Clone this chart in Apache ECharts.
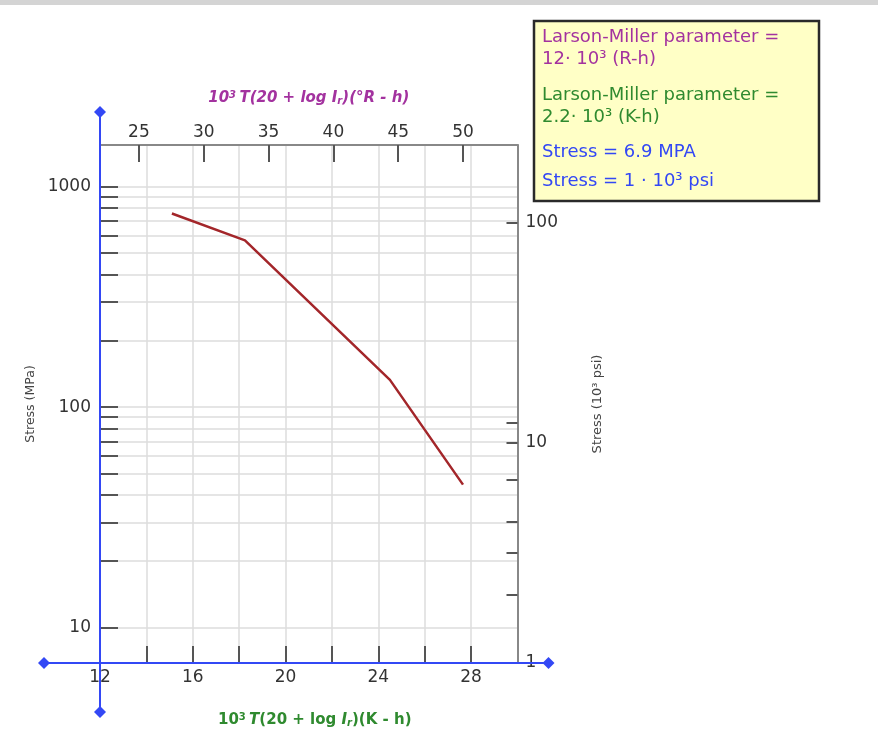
<!DOCTYPE html>
<html><head><meta charset="utf-8">
<script src="https://cdn.jsdelivr.net/npm/echarts@6/dist/echarts.min.js"></script>
<style>html,body{margin:0;padding:0;background:#fff}#c{width:878px;height:740px}</style>
</head><body><div id="c"></div>
<script>
// Larson-Miller parameter (10^3 K-h) vs stress (MPa)
const paramK = [15.1, 18.25, 24.5, 27.65];
const stressMPa = [757, 572, 133, 44.5];
// Tick definitions
const xTicksK = [12, 14, 16, 18, 20, 22, 24, 26, 28, 30];
const xLabelsK = [12, 16, 20, 24, 28];
const topTicksR = [25, 30, 35, 40, 45, 50];
const leftTicksMPa = [10, 20, 30, 40, 50, 60, 70, 80, 90, 100, 200, 300, 400, 500, 600, 700, 800, 900, 1000];
const leftLabelsMPa = [10, 100, 1000];
const rightTicksKsi = [1, 2.04, 3.18, 4.39, 6.8, 10, 12.35, 100];
const rightLabelsKsi = [1, 10, 100];
const legendLines = [
  ['Larson-Miller parameter =', 'p'],
  ['12· 10³ (R-h)', 'p'],
  ['Larson-Miller parameter =', 'g'],
  ['2.2· 10³ (K-h)', 'g'],
  ['Stress = 6.9 MPA', 'b'],
  ['Stress = 1 · 10³ psi', 'b']
];

const PURPLE = '#a3329f', GREEN = '#2f8a2f', BLUE = '#3348f5';
const FONT = 'DejaVu Sans';
const K_MIN = 12, K_MAX = 30, R_MIN = 22.0, R_MAX = 54.2;
const MPA_MIN = 6.895, MPA_MAX = 1549;
const KSI_MIN = 1, KSI_MAX = MPA_MAX / 6.895;

const chart = echarts.init(document.getElementById('c'), null, {renderer: 'canvas'});

function richName(col, italicAll) {
  const base = {fontFamily: FONT, fontWeight: 'bold', fontSize: 15, color: col, fontStyle: italicAll ? 'italic' : 'normal'};
  return {
    n: base,
    i: Object.assign({}, base, {fontStyle: 'italic'}),
    sup: Object.assign({}, base, {fontSize: 10, verticalAlign: 'top', padding: [0, 0, 6, 0]}),
    sub: Object.assign({}, base, {fontSize: 10, fontStyle: 'italic', verticalAlign: 'bottom', padding: [6, 0, 0, 0]})
  };
}

const tickLabelStyle = {fontFamily: FONT, fontSize: 17, color: '#333', formatter: v => String(v)};
const gridLineStyle = {color: '#dcdcdc', width: 1.5, type: 'solid'};

chart.setOption({
  animation: false,
  backgroundColor: '#fff',
  grid: {left: 100, top: 145, width: 417.5, height: 518, containLabel: false},
  xAxis: [{
    type: 'value', position: 'bottom', min: K_MIN, max: K_MAX, interval: 2, z: 10,
    axisLine: {show: false},
    axisTick: {show: true, inside: true, length: 17, customValues: xTicksK.slice(1, -1), lineStyle: {color: '#555', width: 2}},
    axisLabel: Object.assign({customValues: xLabelsK, margin: 6}, tickLabelStyle),
    splitLine: {show: false},
    name: '{n|10}{sup|3} {i|T}{n|(20 + log }{i|I}{sub|r}{n|)(K - h)}',
    nameLocation: 'middle', nameGap: 49,
    nameTextStyle: {rich: richName(GREEN, false), padding: [0, 0, 0, 12]}
  }, {
    type: 'value', position: 'top', min: R_MIN, max: R_MAX, z: 10,
    axisLine: {show: true, lineStyle: {color: '#888', width: 2}},
    axisTick: {show: true, inside: true, length: 17, customValues: topTicksR, lineStyle: {color: '#555', width: 2}},
    axisLabel: Object.assign({customValues: topTicksR, margin: 4}, tickLabelStyle),
    splitLine: {show: false},
    name: '{n|10}{sup|3} {n|T(20 + log I}{sub|r}{n|)(°R - h)}',
    nameLocation: 'middle', nameGap: 39,
    nameTextStyle: {rich: richName(PURPLE, true)}
  }],
  yAxis: [{
    type: 'log', logBase: 10, position: 'left', min: MPA_MIN, max: MPA_MAX, z: 10,
    axisLine: {show: false},
    axisTick: {show: true, inside: true, length: 18, customValues: leftTicksMPa, lineStyle: {color: '#555', width: 2}},
    axisLabel: Object.assign({customValues: leftLabelsMPa, margin: 9}, tickLabelStyle),
    splitLine: {show: false},
    name: 'Stress (MPa)', nameLocation: 'middle', nameGap: 63, nameRotate: 90,
    nameTextStyle: {fontFamily: FONT, fontSize: 12.5, color: '#444'}
  }, {
    type: 'log', logBase: 10, position: 'right', min: KSI_MIN, max: KSI_MAX, z: 10,
    axisLine: {show: true, lineStyle: {color: '#888', width: 2}},
    axisTick: {show: true, inside: true, length: 11, customValues: rightTicksKsi, lineStyle: {color: '#555', width: 2}},
    axisLabel: Object.assign({customValues: rightLabelsKsi, margin: 8}, tickLabelStyle),
    splitLine: {show: false},
    name: 'Stress (10³ psi)', nameLocation: 'middle', nameGap: 74, nameRotate: 90,
    nameTextStyle: {fontFamily: FONT, fontSize: 13, color: '#444'}
  }],
  series: [{
    type: 'line', xAxisIndex: 0, yAxisIndex: 0, z: 1, data: [],
    markLine: {
      silent: true, symbol: 'none', animation: false, z: 1,
      label: {show: false},
      lineStyle: gridLineStyle,
      emphasis: {disabled: true},
      data: leftTicksMPa.map(v => ({yAxis: v})).concat(xTicksK.slice(1, -1).map(v => ({xAxis: v})))
    }
  }, {
    type: 'line', xAxisIndex: 0, yAxisIndex: 0, z: 6,
    symbol: 'none', smooth: false,
    lineStyle: {color: '#a3262a', width: 2.5},
    data: paramK.map((k, i) => [k, stressMPa[i]])
  }]
});

// Decorative blue axes and legend box
const o = chart.convertToPixel({xAxisIndex: 0, yAxisIndex: 0}, [K_MIN, MPA_MIN]);
const tr = chart.convertToPixel({xAxisIndex: 0, yAxisIndex: 0}, [K_MAX, MPA_MAX]);
function diamond(x, y) {
  return {type: 'polygon', z: 100, shape: {points: [[x, y - 6], [x + 6, y], [x, y + 6], [x - 6, y]]}, style: {fill: BLUE}};
}
const colMap = {p: PURPLE, g: GREEN, b: BLUE};
const legendY = [37, 59, 95, 117, 152, 181];
const graphics = [
  {type: 'rect', z: 0, shape: {x: 0, y: 0, width: 878, height: 5}, style: {fill: '#d4d4d4'}},
  {type: 'line', z: 99, shape: {x1: o[0], y1: tr[1] - 33, x2: o[0], y2: o[1] + 49}, style: {stroke: BLUE, lineWidth: 2}},
  {type: 'line', z: 99, shape: {x1: o[0] - 56, y1: o[1], x2: tr[0] + 31, y2: o[1]}, style: {stroke: BLUE, lineWidth: 2}},
  diamond(o[0], tr[1] - 33), diamond(o[0], o[1] + 49), diamond(o[0] - 56, o[1]), diamond(tr[0] + 31, o[1]),
  {type: 'rect', z: 100, shape: {x: 534, y: 21, width: 285, height: 180}, style: {fill: '#ffffc6', stroke: '#2a2a2a', lineWidth: 2.5}}
];
legendLines.forEach((l, i) => {
  graphics.push({type: 'text', z: 101, x: 542, y: legendY[i], style: {text: l[0], fill: colMap[l[1]], font: '18px "' + FONT + '"', textVerticalAlign: 'middle'}});
});
chart.setOption({graphic: graphics});
</script>
</body></html>
